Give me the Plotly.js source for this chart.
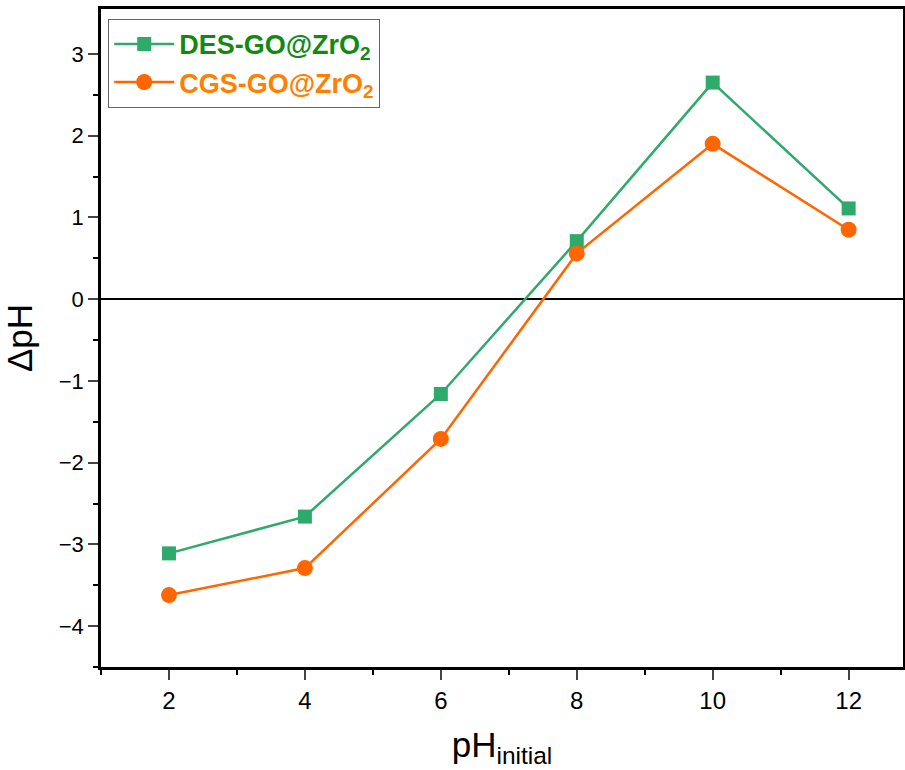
<!DOCTYPE html>
<html><head><meta charset="utf-8">
<script src="https://cdn.plot.ly/plotly-3.0.1.min.js"></script>
<style>body{margin:0;background:#fff}#chart{width:905px;height:770px}</style>
</head><body><div id="chart"></div>
<script>
const pHInitial = [2, 4, 6, 8, 10, 12];
const desDeltaPH = [-3.11, -2.66, -1.16, 0.71, 2.65, 1.11];
const cgsDeltaPH = [-3.62, -3.29, -1.71, 0.56, 1.90, 0.85];
const seriesNames = ['DES-GO@ZrO<sub>2</sub>', 'CGS-GO@ZrO<sub>2</sub>'];

const traces = [
  {x: pHInitial, y: desDeltaPH, mode: 'lines+markers', type: 'scatter',
   name: '<span style="color:#128a12"><b>' + seriesNames[0] + '</b></span>',
   line: {color: '#2eaa6a', width: 2.5},
   marker: {symbol: 'square', size: 14, color: '#2eaa6a'}},
  {x: pHInitial, y: cgsDeltaPH, mode: 'lines+markers', type: 'scatter',
   name: '<span style="color:#ff8000"><b>' + seriesNames[1] + '</b></span>',
   line: {color: '#ff6600', width: 2.5},
   marker: {symbol: 'circle', size: 16, color: '#ff6600'}}
];

const layout = {
  width: 905, height: 770,
  margin: {l: 101, r: 2, t: 9, b: 103},
  paper_bgcolor: '#fff', plot_bgcolor: '#fff',
  font: {family: 'Arial, Liberation Sans, sans-serif', color: '#000'},
  showlegend: true,
  legend: {x: 0.009, y: 0.985, xanchor: 'left', yanchor: 'top',
    bordercolor: '#666', borderwidth: 1, bgcolor: '#fff', itemwidth: 60,
    font: {size: 27, family: 'Arial, Liberation Sans, sans-serif'}, tracegroupgap: 4},
  xaxis: {range: [1, 12.8], tickvals: [2,4,6,8,10,12], ticks: 'outside', ticklen: 10, tickwidth: 2,
    showline: true, linewidth: 2.5, linecolor: '#000', mirror: true, showgrid: false, zeroline: false,
    tickfont: {size: 24},
    minor: {tickvals: [1,3,5,7,9,11], ticks: 'outside', ticklen: 5, tickwidth: 2, tickcolor: '#000', showgrid: false},
    title: {text: 'pH<sub>initial</sub>', font: {size: 35}, standoff: 20}},
  yaxis: {range: [-4.5, 3.55], tickvals: [-4,-3,-2,-1,0,1,2,3], ticktext: ['\u22124','\u22123','\u22122','\u22121','0','1','2','3'],
    ticks: 'outside', ticklen: 10, tickwidth: 2,
    showline: true, linewidth: 2.5, linecolor: '#000', mirror: true, showgrid: false,
    zeroline: true, zerolinecolor: '#000', zerolinewidth: 2,
    tickfont: {size: 22},
    minor: {tickvals: [-4.5,-3.5,-2.5,-1.5,-0.5,0.5,1.5,2.5], ticks: 'outside', ticklen: 5, tickwidth: 2, tickcolor: '#000', showgrid: false},
    title: {text: '\u0394pH', font: {size: 35}, standoff: 16}}
};
Plotly.newPlot('chart', traces, layout, {displayModeBar: false});
</script></body></html>
